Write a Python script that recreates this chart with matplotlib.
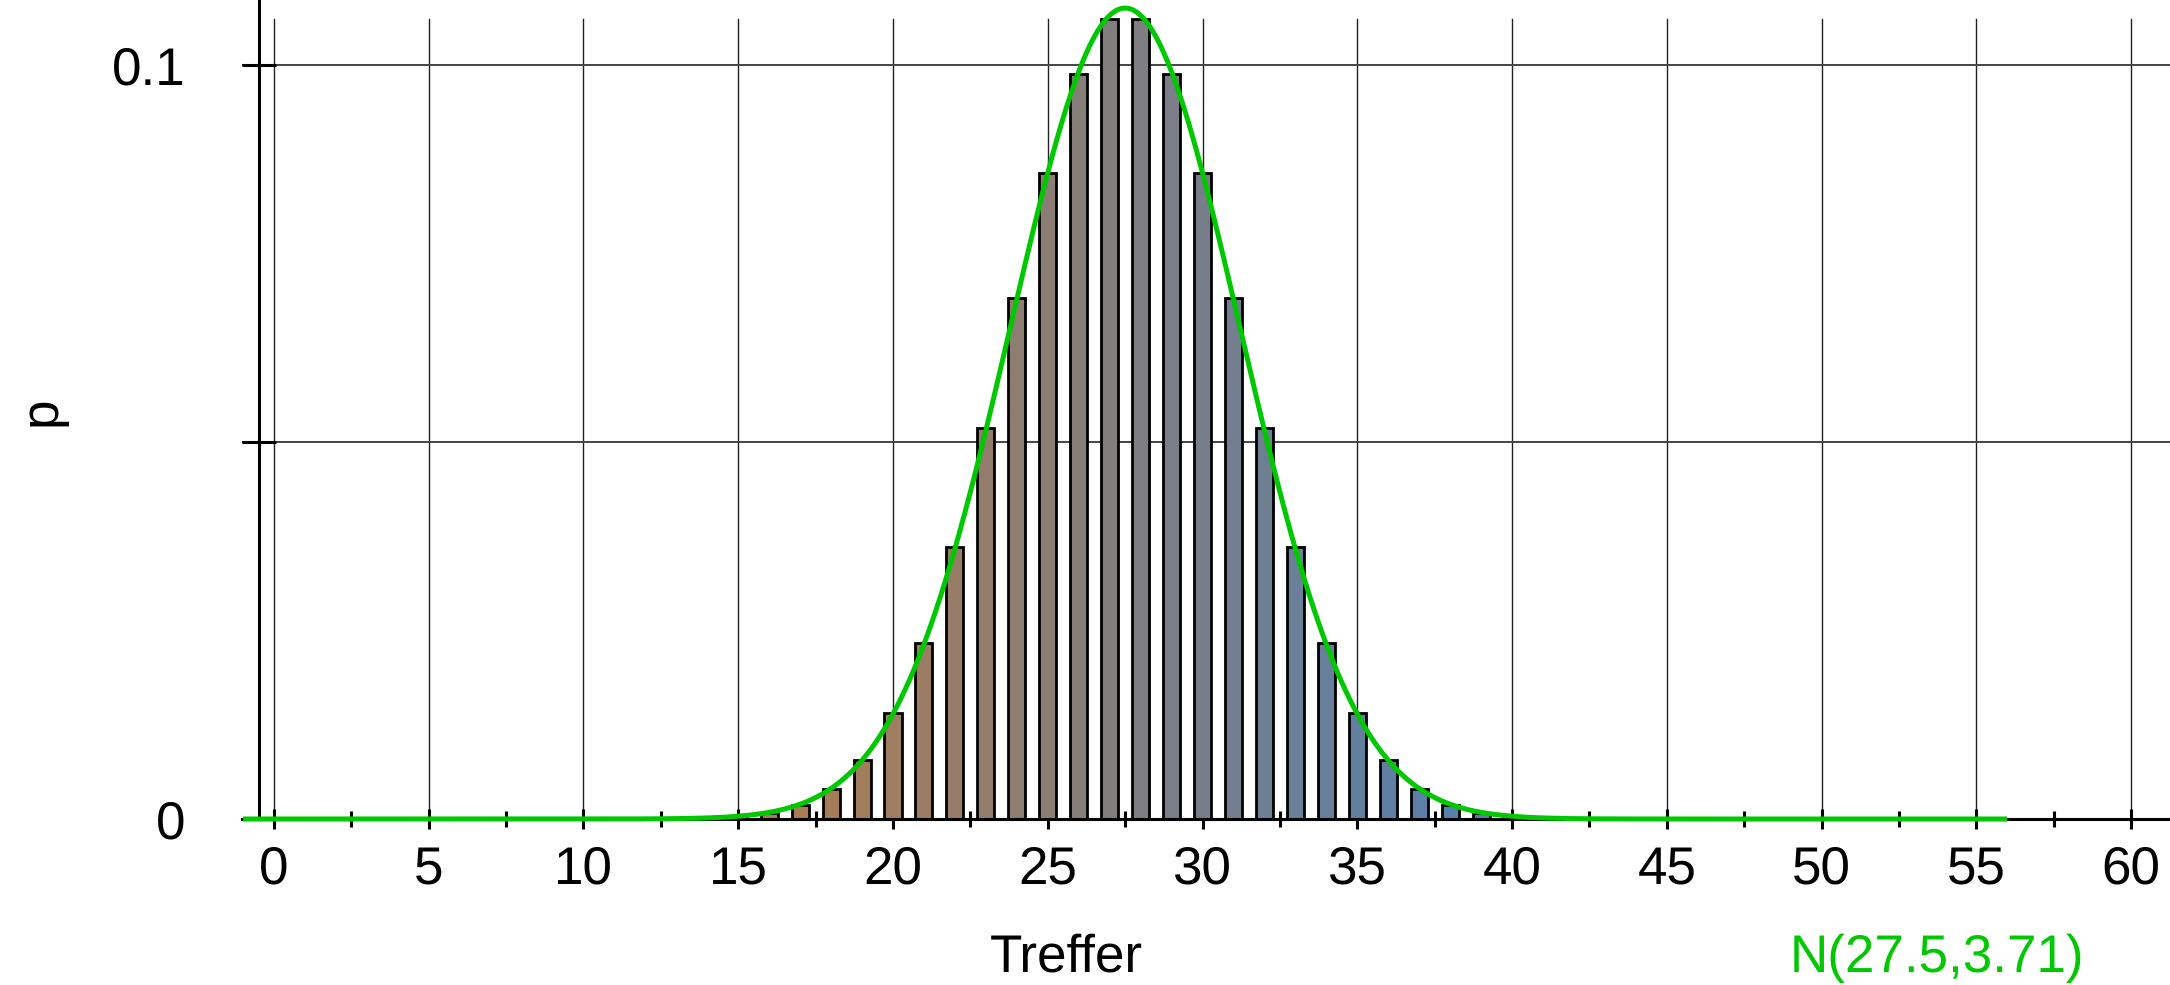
import numpy as np
import matplotlib.pyplot as plt
import matplotlib.transforms as mtransforms
from matplotlib.colors import to_rgb

plt.rcParams['font.family'] = ['Liberation Sans', 'DejaVu Sans']
plt.rcParams['text.hinting'] = 'none'
plt.rcParams['text.hinting_factor'] = 1

# binomial bars
k_vals = list(range(13, 43))
p_vals = [0.00004, 0.00012, 0.00033, 0.00083, 0.0019, 0.0040, 0.0078,
          0.0140, 0.0234, 0.0361, 0.0518, 0.0691, 0.0856, 0.0988, 0.1061,
          0.1061, 0.0988, 0.0856, 0.0691, 0.0518, 0.0361, 0.0234, 0.0140,
          0.0078, 0.0040, 0.0019, 0.00083, 0.00033, 0.00012, 0.00004]

# normal approximation shown in green
mu = 27.5
sigma = 3.71
curve_range = (-1.0, 56.0)
curve_label = "N(27.5,3.71)"

x_ticks = [0, 5, 10, 15, 20, 25, 30, 35, 40, 45, 50, 55, 60]
y_ticks = [0, 0.05, 0.1]
y_ticklabels = ["0", "", "0.1"]

green = '#00c800'
c_lo = np.array(to_rgb('#ad7c4f'))
c_hi = np.array(to_rgb('#5480b0'))
fs = 38.5

W, H = 2170, 985
fig = plt.figure(figsize=(W / 100, H / 100), dpi=100)
left_px, bottom_px = 241.5, 819
ax = fig.add_axes([left_px / W, (H - bottom_px) / H, 1 - left_px / W, bottom_px / H])
ax.set_xlim(-1.05, 61.26)
ax.set_ylim(0, 0.1086)

# grid
for xv in x_ticks:
    ax.plot([xv, xv], [0, 0.1061], color='#222222', lw=1.0, zorder=0)
for yv in y_ticks[1:]:
    ax.axhline(yv, color='#444444', lw=1.4, zorder=0)

# bars with brown -> blue gradient
cols = []
for k in k_vals:
    t = np.clip((k - 16) / (39 - 16), 0, 1)
    cols.append(tuple(c_lo * (1 - t) + c_hi * t))
ax.bar(k_vals, p_vals, width=0.55, color=cols, edgecolor='black', linewidth=2, zorder=2)

xs = np.linspace(curve_range[0], curve_range[1], 800)
ys = np.exp(-0.5 * ((xs - mu) / sigma) ** 2) / (sigma * np.sqrt(2 * np.pi))
ax.plot(xs, ys, color=green, lw=3.6, zorder=4, clip_on=False, solid_capstyle='butt')

# spines
for s in ['top', 'right']:
    ax.spines[s].set_visible(False)
ax.spines['left'].set_position(('data', -0.5))
ax.spines['left'].set_linewidth(2.2)
ax.spines['bottom'].set_linewidth(2.2)
ax.spines['bottom'].set_zorder(3)

ax.set_xticks(x_ticks)
ax.set_xticklabels([])
ax.set_xticks([2.5 + 5 * i for i in range(12)], minor=True)
ax.tick_params(axis='x', which='major', direction='inout', length=15, width=2.2)
ax.tick_params(axis='x', which='minor', direction='inout', length=12, width=2.2)
ax.set_yticks(y_ticks)
ax.set_yticklabels(y_ticklabels)
ax.tick_params(axis='y', direction='inout', length=25, width=2.2, labelsize=fs, pad=40)

# x tick labels on a common baseline
trans = mtransforms.blended_transform_factory(ax.transData, fig.transFigure)
for xv in x_ticks:
    ax.text(xv, 1 - 883 / H, str(xv), transform=trans, fontsize=fs,
            ha='center', va='baseline', clip_on=False)

fig.text(1066 / W, 1 - 958 / H, "Treffer", fontsize=fs, ha='center', va='center')
fig.text(42 / W, 1 - 411 / H, "p", fontsize=fs, ha='center', va='center', rotation=90)
fig.text(1937 / W, 1 - 958 / H, curve_label, fontsize=fs, ha='center', va='center', color=green)

fig.savefig("out.png", dpi=100)
